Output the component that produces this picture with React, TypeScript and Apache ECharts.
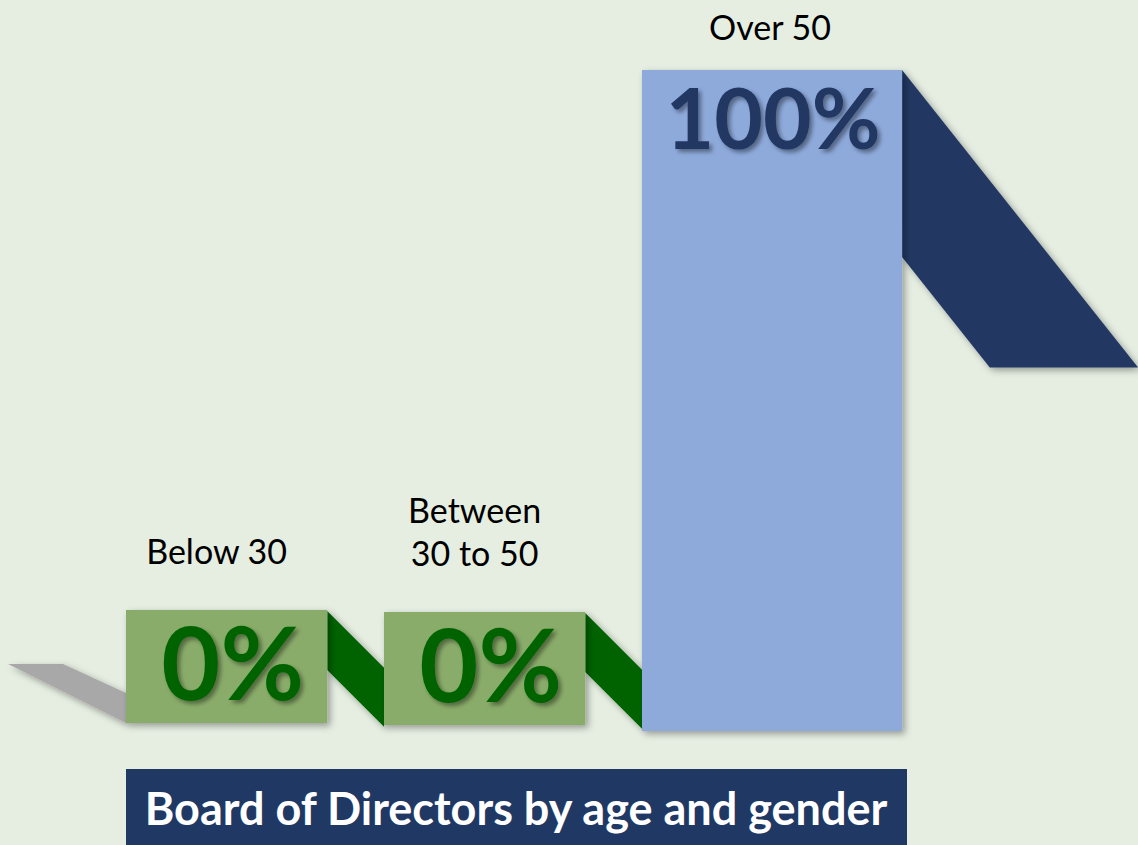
import React, { useEffect, useRef } from "react";
import * as echarts from "echarts";

const categories: string[] = ["Below 30", "Between\n30 to 50", "Over 50"];
const values: number[] = [0, 0, 100];
const titleText = "Board of Directors by age and gender";

const BG = "#E6EEE2";
const GREEN_BOX = "#8AAC6B";
const DARK_GREEN = "#006400";
const BLUE_BAR = "#8EAADB";
const NAVY = "#203864";
const GRAY = "#A8A8A8";
const MIN_BOX = 113;

export default function App() {
  const ref = useRef<HTMLDivElement>(null);
  useEffect(() => {
    if (!ref.current) return;
    const chart = echarts.init(ref.current, undefined, { renderer: "svg" });
    const maxValue = Math.max(...values);

    const renderItem = (params: any, api: any) => {
      const i = params.dataIndex;
      const band = api.size([1, 0])[0];
      const geo = (k: number) => {
        const v = values[k];
        const base = api.coord([k, 0]);
        const top = api.coord([k, v]);
        const isMax = v === maxValue && v > 0;
        const left = base[0] - band / 2;
        const width = isMax ? band * 1.008 : band * 0.78;
        let bottom: number;
        let t: number;
        if (base[1] - top[1] > MIN_BOX) {
          bottom = base[1];
          t = top[1];
        } else {
          bottom = base[1] - 8 + 2 * k;
          t = bottom - MIN_BOX;
        }
        return { left, width, top: t, bottom, isMax, v };
      };
      const g = geo(i);
      const children: any[] = [];
      const shadow = {
        shadowBlur: 7,
        shadowOffsetX: 3,
        shadowOffsetY: 3,
        shadowColor: "rgba(0,0,0,0.35)",
      };
      if (i === 0) {
        const L = g.left;
        const B = g.bottom;
        children.push({
          type: "polygon",
          shape: {
            points: [
              [L - band * 0.457, B - 59],
              [L - band * 0.244, B - 59],
              [L, B - 30],
              [L, B],
            ],
          },
          style: { fill: GRAY, ...shadow },
        });
      }
      const xR = g.left + g.width;
      const ribbonColor = g.isMax ? NAVY : DARK_GREEN;
      if (i < values.length - 1) {
        const n = geo(i + 1);
        const xN = n.left;
        const dx = xN - xR;
        const y0 = g.top + 1;
        const thick = 59;
        children.push({
          type: "polygon",
          shape: {
            points: [
              [xR, y0],
              [xN, y0 + dx],
              [xN, y0 + dx + thick],
              [xR, y0 + thick],
            ],
          },
          style: { fill: ribbonColor, ...shadow },
        });
      } else {
        const H = g.bottom - g.top;
        children.push({
          type: "polygon",
          shape: {
            points: [
              [xR, g.top],
              [xR + band * 0.915, g.top + H * 0.45],
              [xR + band * 0.34, g.top + H * 0.45],
              [xR, g.top + H * 0.283],
            ],
          },
          style: { fill: ribbonColor, ...shadow },
        });
      }
      children.push({
        type: "rect",
        shape: { x: g.left, y: g.top, width: g.width, height: g.bottom - g.top },
        style: { fill: g.isMax ? BLUE_BAR : GREEN_BOX, ...shadow },
      });
      const cx = g.left + g.width / 2;
      children.push({
        type: "text",
        x: cx + (g.isMax ? 1 : 6),
        y: g.top + (g.isMax ? 46 : 50),
        style: {
          text: g.v + "%",
          fill: g.isMax ? NAVY : DARK_GREEN,
          font: g.isMax ? "bold 84px Lato" : "bold 102px Lato",
          textAlign: "center",
          textVerticalAlign: "middle",
          textShadowColor: "rgba(0,0,0,0.4)",
          textShadowBlur: 4,
          textShadowOffsetX: 3,
          textShadowOffsetY: 3,
        },
      });
      children.push({
        type: "text",
        x: cx + (g.isMax ? -2 : -10),
        y: g.top - (g.isMax ? 22 : 38),
        style: {
          text: categories[i],
          fill: "#000000",
          font: "34px Lato",
          lineHeight: 43,
          textAlign: "center",
          textVerticalAlign: "bottom",
        },
      });
      return { type: "group", children };
    };

    chart.setOption({
      animation: false,
      backgroundColor: BG,
      grid: { left: 126, width: 774, top: 70, bottom: 114 },
      xAxis: { type: "category", data: categories, show: false },
      yAxis: { type: "value", min: 0, max: 100, show: false },
      series: [
        {
          type: "custom",
          clip: false,
          renderItem,
          encode: { x: 0, y: 1 },
          data: values.map((v, k) => [k, v]),
        },
      ],
      graphic: [
        {
          type: "rect",
          shape: { x: 126, y: 769, width: 781, height: 80 },
          style: { fill: NAVY },
          z: 10,
        },
        {
          type: "text",
          x: 516,
          y: 808,
          z: 11,
          style: {
            text: titleText,
            fill: "#FFFFFF",
            font: "bold 45px Lato",
            textAlign: "center",
            textVerticalAlign: "middle",
          },
        },
      ],
    });
    return () => chart.dispose();
  }, []);
  return (
    <div
      ref={ref}
      style={{ position: "fixed", left: 0, top: 0, width: 1138, height: 845 }}
    />
  );
}
